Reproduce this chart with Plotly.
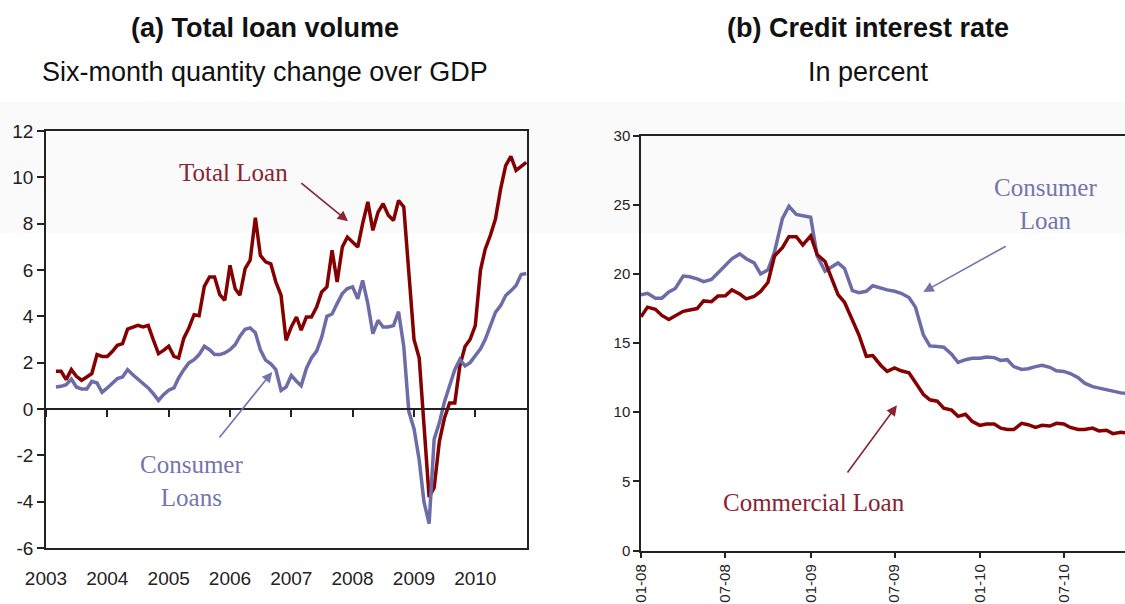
import pandas as pd
import plotly.graph_objects as go

# ---- panel (a): six-month quantity change over GDP, monthly Mar 2003 - Nov 2010
loan_months = pd.date_range('2003-03-01', '2010-11-01', freq='MS')
total_loan = [
    1.63, 1.63, 1.27, 1.70, 1.41, 1.24, 1.38, 1.53, 2.35, 2.27,
    2.27, 2.49, 2.75, 2.82, 3.45, 3.54, 3.61, 3.54, 3.61, 2.99, 2.39, 2.53,
    2.71, 2.27, 2.20, 3.06, 3.50, 4.07, 4.03, 5.29, 5.70, 5.70, 4.94, 4.69,
    6.20, 5.19, 4.91, 6.06, 6.42, 8.26, 6.63, 6.35, 6.27, 5.48, 4.91, 2.96,
    3.54, 3.97, 3.40, 3.97, 3.97, 4.40, 5.05, 5.27, 6.85, 5.48, 6.99, 7.42,
    7.21, 6.99, 8.00, 8.94, 7.71, 8.50, 8.86, 8.36, 8.14, 9.00, 8.72, 6.00,
    3.00, 2.20, -0.80, -3.80, -3.40, -1.40, -0.40, 0.26, 0.26, 1.86, 2.70, 3.00,
    3.60, 6.00, 6.90, 7.50, 8.20, 9.50, 10.50, 10.90, 10.30, 10.45, 10.65,
]
consumer_loans = [
    0.95, 0.98, 1.05, 1.29, 0.95, 0.86, 0.86, 1.19, 1.12, 0.72,
    0.91, 1.12, 1.31, 1.38, 1.70, 1.48, 1.29, 1.09, 0.91, 0.66, 0.37, 0.62,
    0.81, 0.91, 1.34, 1.70, 1.99, 2.13, 2.35, 2.71, 2.56, 2.35, 2.35, 2.42,
    2.56, 2.78, 3.14, 3.44, 3.50, 3.29, 2.55, 2.11, 1.95, 1.70, 0.80, 0.95,
    1.45, 1.20, 1.00, 1.75, 2.20, 2.50, 3.10, 4.00, 4.10, 4.55, 4.98, 5.20,
    5.27, 4.76, 5.55, 4.55, 3.25, 3.83, 3.54, 3.54, 3.60, 4.20, 2.70, -0.10,
    -0.85, -2.20, -4.00, -4.95, -1.30, -0.60, 0.30, 1.00, 1.70, 2.14, 1.86, 2.00,
    2.30, 2.60, 3.00, 3.60, 4.17, 4.46, 4.90, 5.10, 5.33, 5.80, 5.85,
]
year_ticks = ['2003', '2004', '2005', '2006', '2007', '2008', '2009', '2010']
left_yticks = [-6, -4, -2, 0, 2, 4, 6, 8, 10, 12]

# ---- panel (b): credit interest rate in percent, twice a month Jan 2008 - Nov 2010
rate_dates = pd.date_range('2008-01-01', '2010-11-15', freq='SMS')
consumer_rate = [
    18.5, 18.6, 18.25, 18.25, 18.7, 18.95, 19.85, 19.8, 19.65, 19.45,
    19.6, 20.1, 20.6, 21.1, 21.45, 21.1, 20.8, 20.0, 20.3, 21.6,
    24.0, 24.9, 24.3, 24.2, 24.1, 21.3, 20.2, 20.5, 20.8, 20.4,
    18.8, 18.65, 18.75, 19.15, 18.95, 18.85, 18.75, 18.6, 18.3, 17.6,
    15.6, 14.8, 14.75, 14.7, 14.2, 13.6, 13.8, 13.9, 13.9, 14.0,
    13.95, 13.75, 13.8, 13.3, 13.1, 13.15, 13.3, 13.4, 13.25, 13.0,
    12.95, 12.8, 12.5, 12.1, 11.85, 11.75, 11.65, 11.5, 11.4, 11.35,
]
commercial_rate = [
    16.9, 17.6, 17.45, 17.0, 16.7, 16.95, 17.3, 17.4, 17.5, 18.05,
    18.0, 18.4, 18.42, 18.85, 18.55, 18.2, 18.38, 18.74, 19.4, 21.3,
    21.9, 22.7, 22.7, 22.1, 22.75, 21.4, 20.9, 19.7, 18.5, 17.95,
    16.6, 15.6, 14.05, 14.1, 13.4, 12.95, 13.2, 13.0, 12.85, 12.15,
    11.3, 10.9, 10.8, 10.3, 10.15, 9.7, 9.85, 9.35, 9.05, 9.15,
    9.15, 8.85, 8.75, 8.75, 9.2, 9.1, 8.9, 9.05, 9.0, 9.2,
    9.15, 8.9, 8.75, 8.75, 8.85, 8.65, 8.7, 8.45, 8.55, 8.5,
]
rate_tick_dates = ['2008-01-01', '2008-07-01', '2009-01-01', '2009-07-01', '2010-01-01', '2010-07-01']
rate_tick_labels = ['01-08', '07-08', '01-09', '07-09', '01-10', '07-10']
right_yticks = [0, 5, 10, 15, 20, 25, 30]

RED = '#850000'
BLUE = '#6b6ca8'
RED_TXT = '#8a2432'
BLUE_TXT = '#7474ae'
AXIS = '#222222'
SANS = 'Liberation Sans, Arial, sans-serif'
SERIF = 'Liberation Serif, Times New Roman, serif'

W, H = 1125, 604
left_x = [46 / W, 527 / W]
left_y = [1 - 548 / H, 1 - 131 / H]
right_x = [641 / W, 1.0]
right_y = [1 - 550.5 / H, 1 - 135.7 / H]
zero_pos = left_y[0] + (0 - left_yticks[0]) / (left_yticks[-1] - left_yticks[0]) * (left_y[1] - left_y[0])
left_range = ['2003-01-01', '2010-11-05']

fig = go.Figure()

fig.add_trace(go.Scatter(x=loan_months, y=total_loan, mode='lines',
                         line=dict(color=RED, width=3.5), xaxis='x', yaxis='y'))
fig.add_trace(go.Scatter(x=loan_months, y=consumer_loans, mode='lines',
                         line=dict(color=BLUE, width=3.5), xaxis='x', yaxis='y'))
# invisible trace so the zero-line axis with its tick marks gets drawn
fig.add_trace(go.Scatter(x=loan_months, y=total_loan, mode='lines', opacity=0,
                         line=dict(width=0), xaxis='x3', yaxis='y', hoverinfo='skip'))

fig.add_trace(go.Scatter(x=rate_dates, y=consumer_rate, mode='lines',
                         line=dict(color=BLUE, width=3.5), xaxis='x2', yaxis='y2'))
fig.add_trace(go.Scatter(x=rate_dates, y=commercial_rate, mode='lines',
                         line=dict(color=RED, width=3.5), xaxis='x2', yaxis='y2'))

year_dates = [y + '-01-01' for y in year_ticks]

fig.update_layout(
    width=W, height=H,
    autosize=False,
    margin=dict(l=0, r=0, t=0, b=0, pad=0),
    paper_bgcolor='white',
    plot_bgcolor='rgba(0,0,0,0)',
    showlegend=False,
    hovermode=False,
    font=dict(family=SANS, color=AXIS),
    xaxis=dict(domain=left_x, anchor='y', type='date', range=left_range,
               tickvals=year_dates, ticktext=year_ticks, ticks='',
               showline=True, mirror=True, linecolor=AXIS, linewidth=1.5,
               showgrid=False, zeroline=False, ticklabelstandoff=12,
               automargin=False, tickfont=dict(size=19, color=AXIS)),
    xaxis3=dict(overlaying='x', anchor='free', position=zero_pos, type='date',
                range=left_range, tickvals=year_dates, ticks='outside', ticklen=7,
                tickcolor=AXIS, tickwidth=1.5, showticklabels=False,
                showline=True, linecolor=AXIS, linewidth=1.5,
                showgrid=False, zeroline=False, automargin=False),
    yaxis=dict(domain=left_y, anchor='x', range=[-6, 12],
               tickvals=left_yticks, ticktext=[str(v) for v in left_yticks],
               ticks='outside', ticklen=7, tickcolor=AXIS, tickwidth=1.5,
               showline=True, mirror=True, linecolor=AXIS, linewidth=1.5,
               showgrid=False, zeroline=False, automargin=False,
               tickfont=dict(size=19, color=AXIS)),
    xaxis2=dict(domain=right_x, anchor='y2', type='date',
                range=['2008-01-01', '2010-11-10'],
                tickvals=rate_tick_dates, ticktext=rate_tick_labels, tickangle=-90,
                ticks='outside', ticklen=6, tickcolor=AXIS, tickwidth=1.5,
                showline=True, mirror=True, linecolor=AXIS, linewidth=1.5,
                showgrid=False, zeroline=False, automargin=False,
                tickfont=dict(size=15, color=AXIS)),
    yaxis2=dict(domain=right_y, anchor='x2', range=[0, 30], tickvals=right_yticks,
                ticks='outside', ticklen=6, tickcolor=AXIS, tickwidth=1.5,
                showline=True, linecolor=AXIS, linewidth=1.5,
                showgrid=False, zeroline=False, automargin=False,
                tickfont=dict(size=15, color=AXIS)),
    shapes=[dict(type='rect', xref='paper', yref='paper', x0=0, x1=1,
                 y0=1 - 233 / H, y1=1 - 102 / H, fillcolor='#fafafa',
                 line=dict(width=0), layer='below')],
)

# titles
for txt, cx, cy, bold in [
    ('(a) Total loan volume', 265, 28, True),
    ('Six-month quantity change over GDP', 265, 72, False),
    ('(b) Credit interest rate', 868, 28, True),
    ('In percent', 868, 72, False),
]:
    fig.add_annotation(text='<b>%s</b>' % txt if bold else txt, xref='paper', yref='paper',
                       x=cx / W, y=1 - cy / H, showarrow=False,
                       xanchor='center', yanchor='middle',
                       font=dict(family=SANS, size=27, color='#111111'))

# series labels and arrows
labels = [
    ('Total Loan', 'x', 'y', '2006-01-19', 10.23, RED_TXT),
    ('Consumer<br>Loans', 'x', 'y', '2005-05-15', -3.12, BLUE_TXT),
    ('Consumer<br>Loan', 'x2', 'y2', '2010-05-22', 25.05, BLUE_TXT),
    ('Commercial Loan', 'x2', 'y2', '2009-01-09', 3.48, RED_TXT),
]
for txt, xr, yr, x, y, col in labels:
    fig.add_annotation(text=txt, xref=xr, yref=yr, x=x, y=y, showarrow=False,
                       xanchor='center', yanchor='middle', align='center',
                       font=dict(family=SERIF, size=25, color=col))

arrows = [
    ('x', 'y', '2007-02-21', 9.8, '2007-12-05', 8.1, RED_TXT),
    ('x', 'y', '2005-10-23', -1.29, '2006-09-10', 1.6, BLUE_TXT),
    ('x2', 'y2', '2010-03-01', 22.07, '2009-09-01', 18.7, BLUE_TXT),
    ('x2', 'y2', '2009-03-19', 5.53, '2009-07-06', 10.5, RED_TXT),
]
for xr, yr, tx, ty, hx, hy, col in arrows:
    fig.add_annotation(text='', xref=xr, yref=yr, axref=xr, ayref=yr,
                       x=hx, y=hy, ax=tx, ay=ty, showarrow=True,
                       arrowhead=2, arrowsize=1.3, arrowwidth=1.6, arrowcolor=col)

fig.write_html("out.html", config={'displayModeBar': False},
               post_script="document.body.style.margin='0';document.body.style.overflow='hidden';")
